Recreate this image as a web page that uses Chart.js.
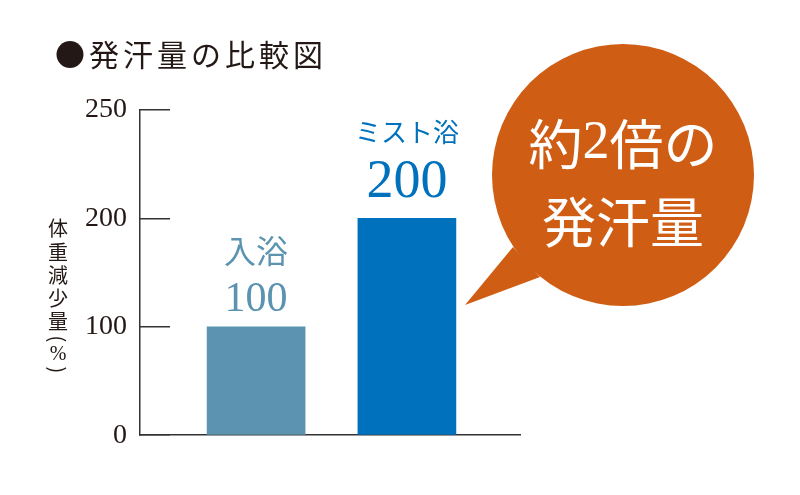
<!DOCTYPE html>
<html lang="ja">
<head>
<meta charset="utf-8">
<title>発汗量の比較図</title>
<script src="https://cdn.jsdelivr.net/npm/chart.js@4.4.1/dist/chart.umd.min.js"></script>
<style>
  html, body { margin: 0; padding: 0; background: #fff; }
  #wrap { width: 800px; height: 495px; }
</style>
</head>
<body>
<div id="wrap"><canvas id="sweatChart" width="800" height="495"></canvas></div>
<script>
const chartTitle = '●発汗量の比較図';
const yAxisTitle = '体重減少量(%)';
const categories = ['入浴', 'ミスト浴'];
const sweatValues = [100, 200];
const tickValues = [0, 100, 200, 300];
const tickLabels = ['0', '100', '200', '250'];
const calloutLines = ['約2倍の', '発汗量'];

const barColors = ['#5b93b1', '#0071bc'];
const inkColor = '#231815';
const calloutColor = '#cf5d13';
const serifFamily = '"Liberation Serif", "Noto Sans CJK JP", serif';
const sansFamily = '"Noto Sans CJK JP", sans-serif';

// draws a mixed string: digits in serif, the rest in the CJK font
function fillMixed(ctx, text, cx, cy, size) {
  const parts = text.match(/[0-9]+|[^0-9]+/g);
  const fontOf = (p) => /[0-9]/.test(p) ? `${size}px ${serifFamily}` : `${size}px ${sansFamily}`;
  let total = 0;
  parts.forEach(p => { ctx.font = fontOf(p); total += ctx.measureText(p).width; });
  let x = cx - total / 2;
  ctx.textAlign = 'left';
  parts.forEach(p => {
    ctx.font = fontOf(p);
    ctx.fillText(p, x, cy);
    x += ctx.measureText(p).width;
  });
}

// text above each bar: category name + value
const barLabelPlugin = {
  id: 'barLabels',
  afterDatasetsDraw(chart) {
    const ctx = chart.ctx;
    const nameSize = [32, 26];
    const valueSize = [42, 54];
    const nameGap = [76, 86];
    const valueGap = [27, 36];
    const bars = chart.getDatasetMeta(0).data;
    ctx.save();
    ctx.textAlign = 'center';
    ctx.textBaseline = 'middle';
    bars.forEach((bar, i) => {
      ctx.fillStyle = barColors[i];
      ctx.font = `${nameSize[i]}px ${sansFamily}`;
      ctx.fillText(categories[i], bar.x, bar.y - nameGap[i]);
      ctx.font = `${valueSize[i]}px ${serifFamily}`;
      ctx.fillText(String(sweatValues[i]), bar.x, bar.y - valueGap[i]);
    });
    ctx.restore();
  }
};

// title, vertical axis title and the speech bubble
const decorPlugin = {
  id: 'decor',
  afterDraw(chart) {
    const ctx = chart.ctx;
    ctx.save();

    ctx.fillStyle = inkColor;
    ctx.font = `30px ${sansFamily}`;
    ctx.letterSpacing = '4px';
    ctx.textAlign = 'left';
    ctx.textBaseline = 'middle';
    ctx.fillText(chartTitle, 55, 55);
    ctx.letterSpacing = '0px';

    // vertical y axis title, one char at a time
    ctx.textAlign = 'center';
    let y = 217;
    for (const ch of yAxisTitle) {
      const paren = ch === '(' || ch === ')';
      const adv = paren ? 11 : (ch === '%' ? 20 : 23.3);
      const cy = y + adv / 2;
      if (paren) {
        ctx.font = `20px ${sansFamily}`;
        ctx.save();
        ctx.translate(58, cy);
        ctx.rotate(Math.PI / 2);
        ctx.fillText(ch, 0, 0);
        ctx.restore();
      } else {
        ctx.font = ch === '%' ? `20px ${serifFamily}` : `20px ${sansFamily}`;
        ctx.fillText(ch, 58, cy);
      }
      y += adv;
    }

    // bubble
    const cx = 623, cyc = 175, r = 131;
    ctx.fillStyle = calloutColor;
    ctx.beginPath();
    ctx.arc(cx, cyc, r, 0, Math.PI * 2);
    ctx.fill();
    ctx.beginPath();
    ctx.moveTo(513, 247);
    ctx.lineTo(465, 305);
    ctx.lineTo(540, 277);
    ctx.closePath();
    ctx.fill();

    ctx.fillStyle = '#fff';
    fillMixed(ctx, calloutLines[0], cx, 144, 54);
    fillMixed(ctx, calloutLines[1], cx, 222, 54);

    ctx.restore();
  }
};

const ctx = document.getElementById('sweatChart').getContext('2d');
new Chart(ctx, {
  type: 'bar',
  data: {
    datasets: [{
      label: '体重減少量',
      data: categories.map((name, i) => ({ x: i, y: sweatValues[i] })),
      backgroundColor: barColors,
      borderWidth: 0,
      barThickness: 98
    }]
  },
  options: {
    responsive: false,
    animation: false,
    events: [],
    layout: {
      padding: { left: 80, top: 110, right: 280, bottom: 58 }
    },
    scales: {
      x: {
        type: 'linear',
        offset: false,
        min: -0.77,
        max: 1.75,
        ticks: { display: false },
        grid: { display: false },
        border: { display: true, color: '#333', width: 1.5 },
        afterFit: (scale) => { scale.height = 0; }
      },
      y: {
        min: 0,
        max: 300,
        afterBuildTicks: (scale) => {
          scale.ticks = tickValues.map(v => ({ value: v }));
        },
        ticks: {
          padding: 43,
          color: inkColor,
          font: { family: serifFamily, size: 28 },
          callback: (value) => tickLabels[tickValues.indexOf(value)]
        },
        grid: { drawOnChartArea: false, tickLength: -30, color: '#333', lineWidth: 1.5 },
        border: { color: '#333', width: 1.5 },
        afterFit: (scale) => { scale.width = 60; }
      }
    },
    plugins: {
      legend: { display: false },
      tooltip: { enabled: false }
    }
  },
  plugins: [barLabelPlugin, decorPlugin]
});
</script>
</body>
</html>
